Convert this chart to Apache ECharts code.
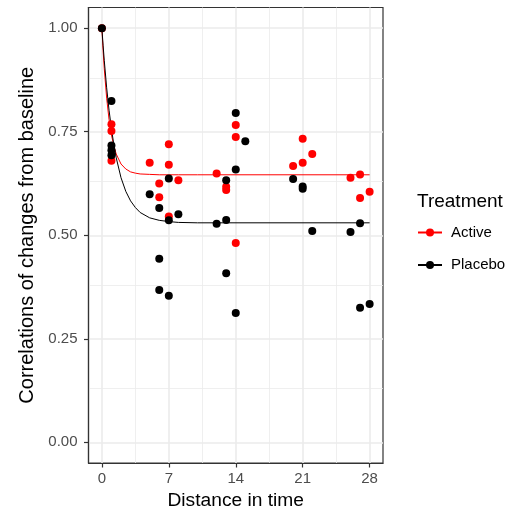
<!DOCTYPE html>
<html>
<head>
<meta charset="utf-8">
<script src="https://cdn.jsdelivr.net/npm/echarts@6/dist/echarts.min.js"></script>
<style>
html,body{margin:0;padding:0;background:#fff;}
#chart{width:510px;height:511px;}
</style>
</head>
<body>
<div id="chart"></div>
<script>
// ---- data ----
var activeX  = [0, 1, 1, 1, 5, 6, 6, 7, 7, 7, 8, 12, 13, 13, 14, 14, 14, 20, 21, 21, 22, 26, 27, 27, 28];
var activeY  = [1.00, 0.768, 0.752, 0.680, 0.675, 0.625, 0.592, 0.720, 0.670, 0.545, 0.633, 0.649, 0.617, 0.609, 0.766, 0.737, 0.481, 0.667, 0.733, 0.675, 0.696, 0.639, 0.647, 0.590, 0.605];
var placeboX = [0, 1, 1, 1, 1, 5, 6, 6, 6, 7, 7, 7, 8, 12, 13, 13, 13, 14, 14, 14, 15, 20, 21, 21, 22, 26, 27, 27, 28];
var placeboY = [1.00, 0.824, 0.717, 0.705, 0.693, 0.599, 0.566, 0.443, 0.368, 0.637, 0.536, 0.354, 0.551, 0.528, 0.633, 0.537, 0.408, 0.795, 0.659, 0.312, 0.727, 0.636, 0.618, 0.612, 0.510, 0.508, 0.529, 0.325, 0.334];
// fitted curves
var fitX        = [0, 0.125, 0.25, 0.5, 0.75, 1, 1.25, 1.5, 2, 2.5, 3, 3.5, 4, 5, 6, 7, 8, 10, 28];
var activeFit   = [1.000, 0.947, 0.902, 0.831, 0.779, 0.742, 0.716, 0.696, 0.672, 0.660, 0.653, 0.650, 0.648, 0.647, 0.646, 0.646, 0.646, 0.646, 0.646];
var placeboFit  = [1.000, 0.959, 0.922, 0.856, 0.802, 0.757, 0.719, 0.687, 0.639, 0.606, 0.583, 0.567, 0.555, 0.542, 0.536, 0.533, 0.531, 0.530, 0.530];
var xTicks = [0, 7, 14, 21, 28];
var xMinor = [3.5, 10.5, 17.5, 24.5];
var yTicks = [0, 0.25, 0.5, 0.75, 1];
var yMinor = [0.125, 0.375, 0.625, 0.875];
var groups = ['Active', 'Placebo'];
var colors = ['#ff0000', '#000000'];

function pairs(xs, ys){ return xs.map(function(x,i){ return [x, ys[i]]; }); }

var gridLines = [];
xMinor.forEach(function(v){ gridLines.push({xAxis: v, lineStyle:{color:'#ebebeb', width:0.8, type:'solid'}}); });
yMinor.forEach(function(v){ gridLines.push({yAxis: v, lineStyle:{color:'#ebebeb', width:0.8, type:'solid'}}); });
xTicks.forEach(function(v){ gridLines.push({xAxis: v, lineStyle:{color:'#ebebeb', width:1.6, type:'solid'}}); });
yTicks.forEach(function(v){ gridLines.push({yAxis: v, lineStyle:{color:'#ebebeb', width:1.6, type:'solid'}}); });

var FONT = '"Liberation Sans", Arial, sans-serif';
var chart = echarts.init(document.getElementById('chart'), null, {renderer:'canvas'});
chart.setOption({
  animation: false,
  backgroundColor: '#ffffff',
  textStyle: {fontFamily: FONT},
  title: {
    text: 'Treatment', left: 417, top: 192, padding: 0,
    textStyle: {fontFamily: FONT, fontSize: 19, fontWeight: 'normal', color: '#000'}
  },
  legend: {
    orient: 'vertical', left: 417, top: 222.5, padding: 0,
    itemWidth: 24, itemHeight: 10, itemGap: 12.5,
    data: groups,
    textStyle: {fontFamily: FONT, fontSize: 15, color: '#000', lineHeight: 20, padding:[0,0,0,4]},
    selectedMode: false
  },
  grid: {
    left: 88.5, right: 127, top: 7.5, bottom: 48,
    outerBoundsMode: 'none', containLabel: false,
    show: true, borderColor: '#333333', borderWidth: 1.2, backgroundColor: '#ffffff'
  },
  xAxis: {
    type: 'value', min: -1.4, max: 29.4,
    name: 'Distance in time', nameLocation: 'middle', nameGap: 27.5,
    nameTextStyle: {fontFamily: FONT, fontSize: 19.2, color: '#000'},
    axisLine: {show: true, onZero: false, lineStyle: {color: '#333333', width: 1.2}},
    splitLine: {show: false},
    axisTick: {show: true, inside: false, length: 4.5, customValues: xTicks, lineStyle: {color:'#333333', width: 1.2}},
    axisLabel: {customValues: xTicks, margin: 8, fontFamily: FONT, fontSize: 15, color: '#4d4d4d'}
  },
  yAxis: {
    type: 'value', min: -0.05, max: 1.05,
    name: 'Correlations of changes from baseline', nameLocation: 'middle', nameGap: 51, nameRotate: 90,
    nameTextStyle: {fontFamily: FONT, fontSize: 20, color: '#000'},
    axisLine: {show: true, onZero: false, lineStyle: {color: '#333333', width: 1.2}},
    splitLine: {show: false},
    axisTick: {show: true, inside: false, length: 4.5, customValues: yTicks, lineStyle: {color:'#333333', width: 1.2}},
    axisLabel: {customValues: yTicks, margin: 11, fontFamily: FONT, fontSize: 15, color: '#4d4d4d',
      formatter: function(v){ return v.toFixed(2); }}
  },
  series: [
    {
      type: 'line', data: [], z: 1, silent: true,
      markLine: {silent: true, z: 0, symbol: ['none','none'], label: {show:false}, animation:false, data: gridLines}
    },
    {
      name: groups[0], type: 'line', z: 3, data: pairs(fitX, activeFit),
      symbol: 'circle', showSymbol: false, smooth: false,
      lineStyle: {color: colors[0], width: 1}, itemStyle: {color: colors[0]}
    },
    {
      name: groups[1], type: 'line', z: 3, data: pairs(fitX, placeboFit),
      symbol: 'circle', showSymbol: false, smooth: false,
      lineStyle: {color: colors[1], width: 1}, itemStyle: {color: colors[1]}
    },
    {
      name: groups[0], type: 'scatter', z: 4, data: pairs(activeX, activeY),
      symbol: 'circle', symbolSize: 8, itemStyle: {color: colors[0], opacity: 1}
    },
    {
      name: groups[1], type: 'scatter', z: 5, data: pairs(placeboX, placeboY),
      symbol: 'circle', symbolSize: 8, itemStyle: {color: colors[1], opacity: 1}
    }
  ]
});
</script>
</body>
</html>
